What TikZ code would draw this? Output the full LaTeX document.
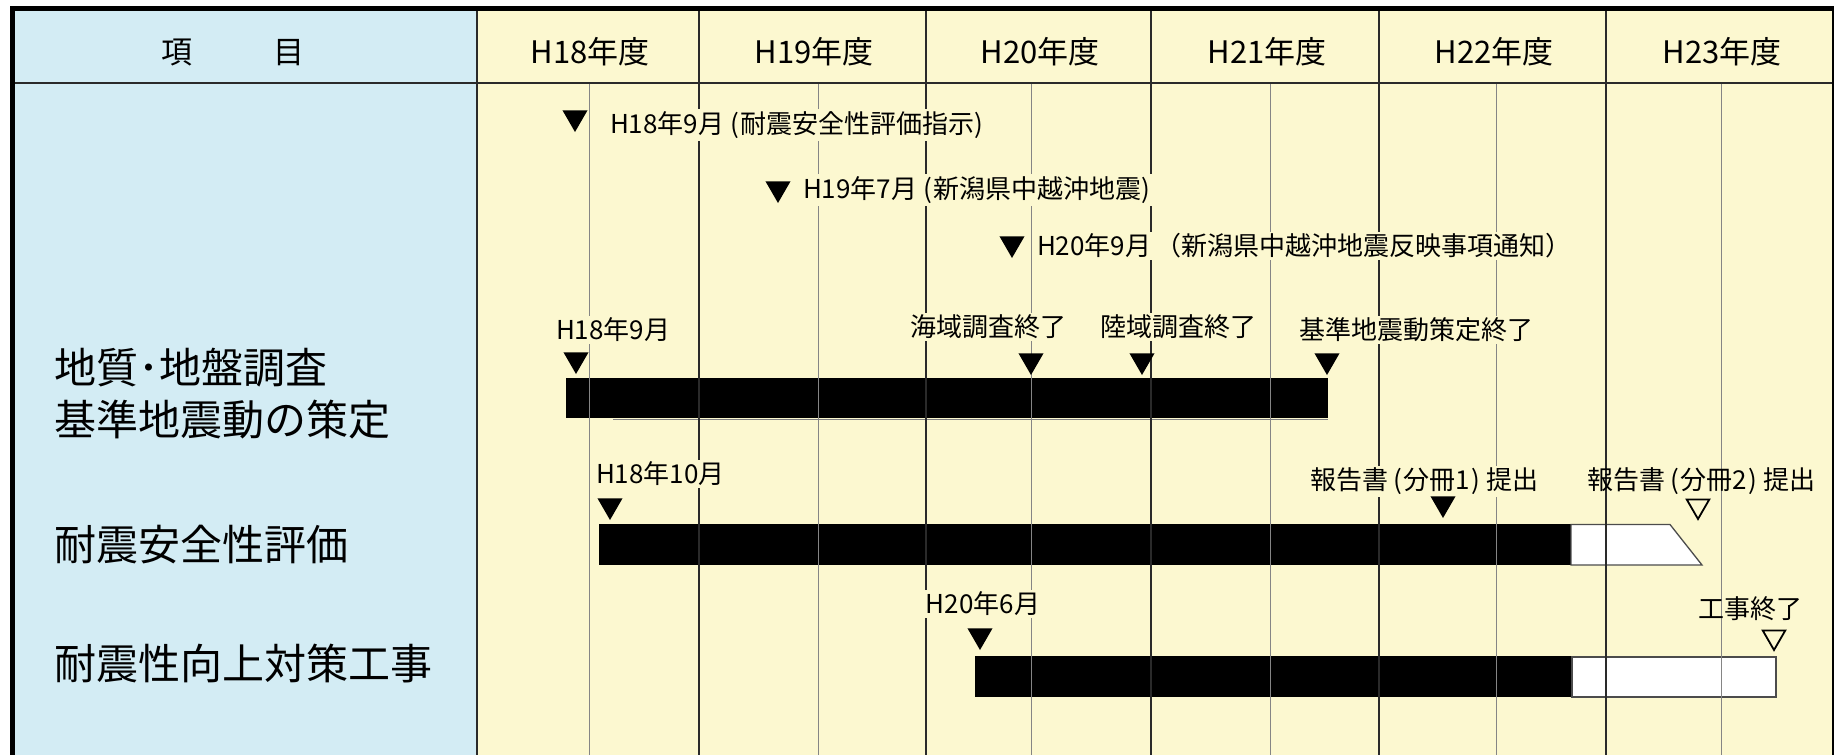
\documentclass[tikz,border=0pt]{standalone}
\usepackage{fontspec}
\setmainfont{Noto Sans CJK JP}
\usetikzlibrary{shapes.geometric}
\definecolor{bluebg}{HTML}{D3ECF4}
\definecolor{yelbg}{HTML}{FCF8D0}
\definecolor{gridgray}{HTML}{858585}
\definecolor{griddark}{HTML}{2A2A2A}
\newcommand{\po}{\kern6pt(\kern1pt}
\newcommand{\pc}{\kern1pt)\kern6pt}
\begin{document}
\begin{tikzpicture}[x=1pt,y=-1pt,
  lbl/.style={font=\fontsize{26}{30}\selectfont, fill=yelbg, inner sep=2pt, outer sep=0pt},
  lblnf/.style={font=\fontsize{26}{30}\selectfont, inner sep=2pt, outer sep=0pt},
  hdr/.style={font=\fontsize{31}{36}\selectfont, inner sep=0pt},
  item/.style={font=\fontsize{42}{52}\selectfont, align=left, anchor=west, inner sep=0pt},
  tri/.style={regular polygon, regular polygon sides=3, shape border rotate=180,
    minimum size=29pt, inner sep=0pt, outer sep=0pt, anchor=south, fill=black},
  otri/.style={regular polygon, regular polygon sides=3, shape border rotate=180,
    minimum size=26pt, inner sep=0pt, outer sep=0pt, anchor=south, draw=black, line width=1.8pt},
  yearline/.style={griddark, line width=1.3pt},
  halfline/.style={gridgray, line width=1pt},
  donebar/.style={fill=black},
  planbar/.style={fill=white, draw=black!70, line width=1.3pt}]
\useasboundingbox (0,0) rectangle (1834,755);
% backgrounds
\fill[white] (0,0) rectangle (1834,755);
\fill[bluebg] (12,9) rectangle (477,755);
\fill[yelbg] (477,9) rectangle (1834,755);
% bars
\fill[donebar] (566,378) rectangle (1328,418);
\draw[gray, line width=1pt] (613,419) -- (1328,419);
\fill[donebar] (599,524) rectangle (1571,565);
\draw[planbar] (1571,524.5) -- (1670,524.5) -- (1702,565) -- (1571,565) -- cycle;
\fill[donebar] (975,656) rectangle (1572,697);
\draw[planbar] (1572,657) rectangle (1776,697);
% grid
\foreach \x in {589,818,1031,1270,1496,1721} \draw[halfline] (\x,83) -- (\x,755);
\foreach \x in {477,699,926,1151,1379,1606} \draw[yearline] (\x,9) -- (\x,755);
\draw[yearline] (12,83) -- (1834,83);
% header
\node[hdr] (hItem) at (233,52) {項\hspace{81pt}目};
\node[hdr] (h18) at (590,52) {H18年度};
\node[hdr] (h19) at (814,52) {H19年度};
\node[hdr] (h20) at (1040,52) {H20年度};
\node[hdr] (h21) at (1267,52) {H21年度};
\node[hdr] (h22) at (1494,52) {H22年度};
\node[hdr] (h23) at (1722,52) {H23年度};
% items
\node[item] (i1) at (54,394) {地質･地盤調査\\基準地震動の策定};
\node[item] (i2) at (54,545) {耐震安全性評価};
\node[item] (i3) at (54,664) {耐震性向上対策工事};
% labels
\node[lbl, anchor=west] (l1) at (608,125) {H18年9月\po 耐震安全性評価指示\pc};
\node[lbl, anchor=west] (l2) at (801,190) {H19年7月\po 新潟県中越沖地震\pc};
\node[lbl, anchor=west] (l3) at (1035,246) {H20年9月\kern4pt（新潟県中越沖地震反映事項通知）};
\node[lbl, anchor=west] (m1) at (554,330) {H18年9月};
\node[lbl] (m2) at (988,327) {海域調査終了};
\node[lbl] (m3) at (1178,327) {陸域調査終了};
\node[lbl] (m4) at (1416,330) {基準地震動策定終了};
\node[lbl, anchor=west] (n1) at (594,474) {H18年10月};
\node[lbl] (n2) at (1424,481) {報告書\po 分冊1\pc 提出};
\node[lblnf] (n3) at (1701,481) {報告書\po 分冊2\pc 提出};
\node[lbl] (p1) at (983,604) {H20年6月};
\node[lblnf] (p2) at (1750,609) {工事終了};
% markers
\node[tri] (t1) at (575,132) {};
\node[tri] (t2) at (778,203) {};
\node[tri] (t3) at (1012,258) {};
\node[tri] (t4) at (576,374) {};
\node[tri] (t5) at (1031,375) {};
\node[tri] (t6) at (1142,375) {};
\node[tri] (t7) at (1327,375) {};
\node[tri] (t8) at (610,520) {};
\node[tri] (t9) at (1443,518) {};
\node[otri] (t10) at (1698,519) {};
\node[tri] (t11) at (980,650) {};
\node[otri] (t12) at (1774,650) {};
% frame
\draw[black, line width=5pt] (12.5,755) -- (12.5,8.5) -- (1834,8.5);
\draw[black, line width=2pt] (1833,8.5) -- (1833,755);
\end{tikzpicture}
\end{document}
